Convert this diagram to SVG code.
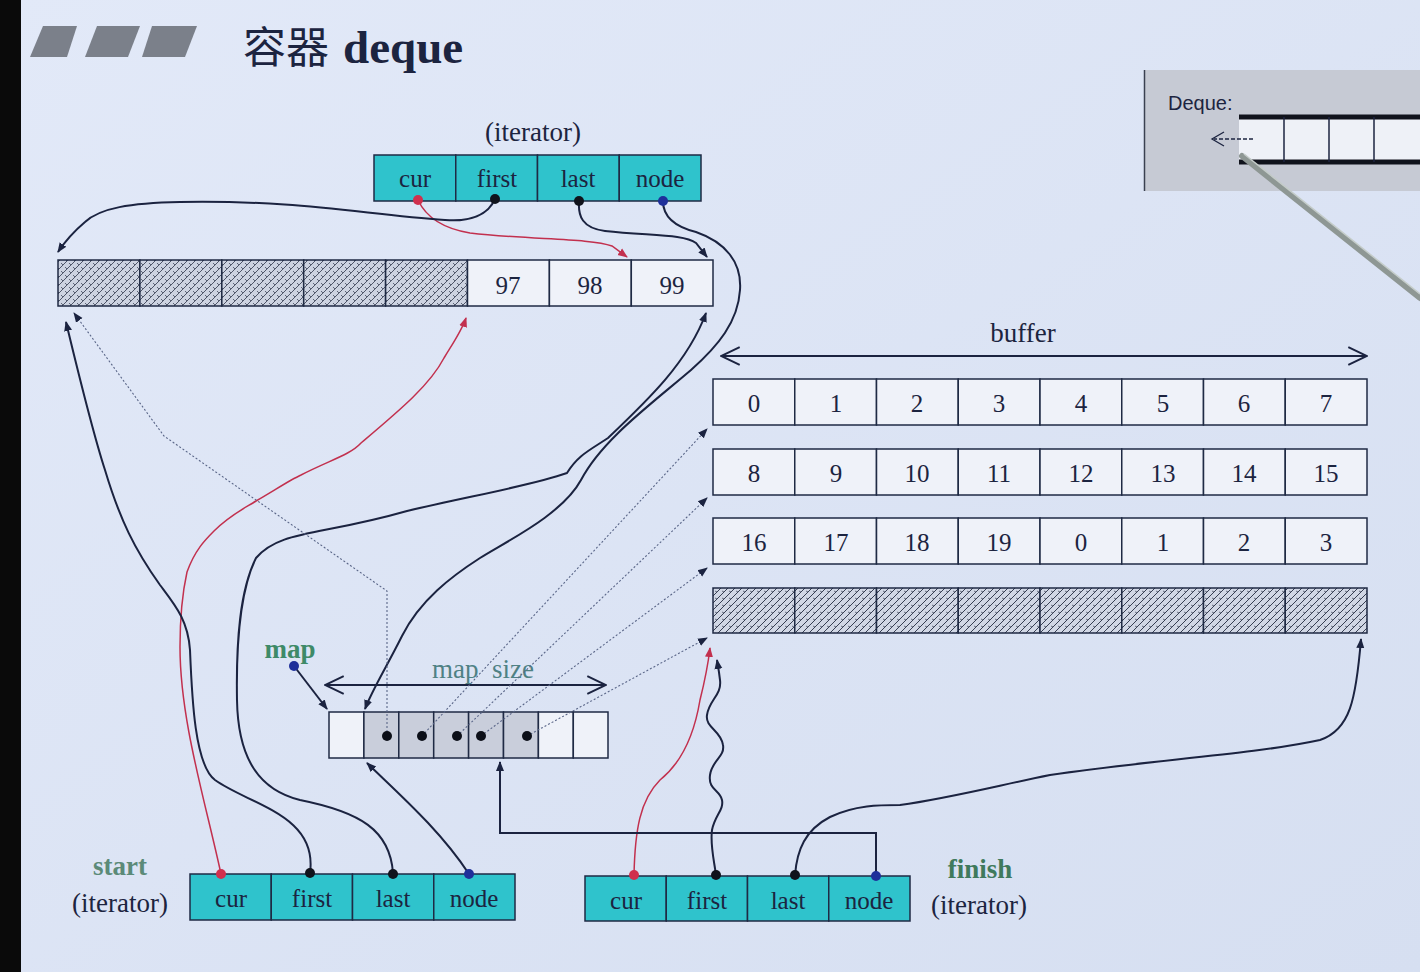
<svg xmlns="http://www.w3.org/2000/svg" width="1420" height="972" viewBox="0 0 1420 972">
  <defs>
    <linearGradient id="bg" x1="0" y1="0" x2="1" y2="1">
      <stop offset="0" stop-color="#e2e9f8"/>
      <stop offset="1" stop-color="#d6dff1"/>
    </linearGradient>
    <pattern id="hatch" width="8" height="8" patternUnits="userSpaceOnUse">
      <rect width="8" height="8" fill="#cdd3e1"/>
      <path d="M0,8 L8,0 M-2,2 L2,-2 M6,10 L10,6" stroke="#3f465a" stroke-width="0.9"/>
      <path d="M1,3 L3,5 M5,7 L7,9 M5,-1 L7,1" stroke="#3f465a" stroke-width="0.8"/>
    </pattern>
    <pattern id="hatch2" width="7" height="7" patternUnits="userSpaceOnUse">
      <rect width="7" height="7" fill="#d1d7e5"/>
      <path d="M0,7 L7,0 M-2,2 L2,-2 M5,9 L9,5" stroke="#363e52" stroke-width="1"/>
      <path d="M1,3 L3,4" stroke="#363e52" stroke-width="0.7"/>
    </pattern>
    <marker id="ah" viewBox="0 0 10 10" refX="9" refY="5" markerWidth="10" markerHeight="10" markerUnits="userSpaceOnUse" orient="auto">
      <path d="M0,1 L10,5 L0,9 z" fill="#1b2340"/>
    </marker>
    <marker id="ahr" viewBox="0 0 10 10" refX="9" refY="5" markerWidth="10" markerHeight="10" markerUnits="userSpaceOnUse" orient="auto">
      <path d="M0,1 L10,5 L0,9 z" fill="#c2304e"/>
    </marker>
    <marker id="open" viewBox="0 0 20 20" refX="19" refY="10" markerWidth="22" markerHeight="22" markerUnits="userSpaceOnUse" orient="auto-start-reverse">
      <path d="M2,2 L19,10 L2,18" fill="none" stroke="#1b2340" stroke-width="1.8"/>
    </marker>
    <style>
      .cell { fill: #eff2f9; stroke: #1f2a44; stroke-width: 1.5; }
      .it { fill: #2fc3cc; stroke: #1f2a44; stroke-width: 1.5; }
      .hat { fill: url(#hatch); stroke: #1f2a44; stroke-width: 1.5; }
      .hat2 { fill: url(#hatch2); stroke: #1f2a44; stroke-width: 1.5; }
      .mg { fill: #c9cedb; stroke: #1f2a44; stroke-width: 1.5; }
      .t { font-family: "Liberation Serif", "Times New Roman", serif; font-size: 25px; fill: #1c2440; text-anchor: middle; }
      .lab { font-family: "Liberation Serif", "Times New Roman", serif; font-size: 27px; fill: #1c2440; text-anchor: middle; }
      .grn { font-family: "Liberation Serif", "Times New Roman", serif; font-size: 27px; font-weight: bold; text-anchor: middle; }
      .ln { fill: none; stroke: #1b2340; stroke-width: 2; }
      .red { fill: none; stroke: #c2304e; stroke-width: 1.5; }
      .dot { fill: none; stroke: #5a6688; stroke-width: 1.1; stroke-dasharray: 2 2; }
    </style>
  </defs>

  <!-- backdrop -->
  <rect width="1420" height="972" fill="url(#bg)"/>
  <rect x="0" y="0" width="21" height="972" fill="#0a0a0a"/>

  <!-- title -->
  <g id="title">
    <polygon points="43,26 77,26 67,57 30,57" fill="#7b808a"/>
    <polygon points="97,26 140,26 128,57 85,57" fill="#7b808a"/>
    <polygon points="152,26 197,26 185,57 142,57" fill="#7b808a"/>
    <text x="243" y="63" font-family="Liberation Serif, Noto Sans CJK SC, serif" font-size="47" fill="#1c2440"><tspan font-family="Noto Sans CJK SC, sans-serif" font-size="43" font-weight="normal">容器</tspan><tspan dx="14" font-weight="bold">deque</tspan></text>
  </g>

  <!-- inset: deque sketch with pointer -->
  <g id="inset">
    <rect x="1144" y="70" width="280" height="121" fill="#c6cad4"/>
    <line x1="1144.5" y1="70" x2="1144.5" y2="191" stroke="#3a4050" stroke-width="1.5"/>
    <text x="1168" y="110" font-family="Liberation Sans, Arial, sans-serif" font-size="20" fill="#1c2440">Deque:</text>
    <rect x="1239" y="117" width="185" height="45" fill="#eef1f7"/>
    <line x1="1239" y1="117" x2="1420" y2="117" stroke="#10131c" stroke-width="5"/>
    <line x1="1239" y1="162" x2="1420" y2="162" stroke="#10131c" stroke-width="5"/>
    <line x1="1284" y1="117" x2="1284" y2="162" stroke="#1c2440" stroke-width="1.5"/>
    <line x1="1329" y1="117" x2="1329" y2="162" stroke="#1c2440" stroke-width="1.5"/>
    <line x1="1374" y1="117" x2="1374" y2="162" stroke="#1c2440" stroke-width="1.5"/>
    <line x1="1253" y1="139" x2="1214" y2="139" stroke="#1c2440" stroke-width="1.3" stroke-dasharray="4 2"/>
    <path d="M1224,132 L1212,139 L1224,146" fill="none" stroke="#1c2440" stroke-width="1.3"/>
    <line x1="1242" y1="156" x2="1420" y2="298" stroke="#8e9794" stroke-width="6" stroke-linecap="round"/>
    <line x1="1244" y1="154" x2="1420" y2="294" stroke="#c4ccc9" stroke-width="1.5"/>
  </g>

  <!-- top iterator -->
  <g id="iter-top">
    <text class="lab" x="533" y="141">(iterator)</text>
    <rect class="it" x="374" y="155" width="81.75" height="46"/>
    <rect class="it" x="455.75" y="155" width="81.75" height="46"/>
    <rect class="it" x="537.5" y="155" width="81.75" height="46"/>
    <rect class="it" x="619.25" y="155" width="81.75" height="46"/>
    <text class="t" x="415" y="187">cur</text>
    <text class="t" x="497" y="187">first</text>
    <text class="t" x="578" y="187">last</text>
    <text class="t" x="660" y="187">node</text>
  </g>

  <!-- first node buffer (97..99) -->
  <g id="buf-top">
    <rect class="hat" x="58" y="260" width="81.9" height="46"/>
    <rect class="hat" x="139.9" y="260" width="81.9" height="46"/>
    <rect class="hat" x="221.8" y="260" width="81.9" height="46"/>
    <rect class="hat" x="303.7" y="260" width="81.9" height="46"/>
    <rect class="hat" x="385.6" y="260" width="81.9" height="46"/>
    <rect class="cell" x="467.5" y="260" width="81.9" height="46"/>
    <rect class="cell" x="549.4" y="260" width="81.9" height="46"/>
    <rect class="cell" x="631.3" y="260" width="81.7" height="46"/>
    <text class="t" x="508" y="294">97</text>
    <text class="t" x="590" y="294">98</text>
    <text class="t" x="672" y="294">99</text>
  </g>

  <!-- buffer size arrow -->
  <g id="buffer-size">
    <text class="lab" x="1023" y="342">buffer</text>
    <line x1="721" y1="356" x2="1367" y2="356" stroke="#1b2340" stroke-width="1.8" marker-start="url(#open)" marker-end="url(#open)"/>
  </g>

  <!-- buffers 1..3 -->
  <g id="buf-1">
    <rect class="cell" x="713" y="379" width="81.75" height="46"/>
    <rect class="cell" x="794.75" y="379" width="81.75" height="46"/>
    <rect class="cell" x="876.5" y="379" width="81.75" height="46"/>
    <rect class="cell" x="958.25" y="379" width="81.75" height="46"/>
    <rect class="cell" x="1040" y="379" width="81.75" height="46"/>
    <rect class="cell" x="1121.75" y="379" width="81.75" height="46"/>
    <rect class="cell" x="1203.5" y="379" width="81.75" height="46"/>
    <rect class="cell" x="1285.25" y="379" width="81.75" height="46"/>
    <text class="t" x="754" y="412">0</text>
    <text class="t" x="836" y="412">1</text>
    <text class="t" x="917" y="412">2</text>
    <text class="t" x="999" y="412">3</text>
    <text class="t" x="1081" y="412">4</text>
    <text class="t" x="1163" y="412">5</text>
    <text class="t" x="1244" y="412">6</text>
    <text class="t" x="1326" y="412">7</text>
  </g>
  <g id="buf-2">
    <rect class="cell" x="713" y="449" width="81.75" height="46"/>
    <rect class="cell" x="794.75" y="449" width="81.75" height="46"/>
    <rect class="cell" x="876.5" y="449" width="81.75" height="46"/>
    <rect class="cell" x="958.25" y="449" width="81.75" height="46"/>
    <rect class="cell" x="1040" y="449" width="81.75" height="46"/>
    <rect class="cell" x="1121.75" y="449" width="81.75" height="46"/>
    <rect class="cell" x="1203.5" y="449" width="81.75" height="46"/>
    <rect class="cell" x="1285.25" y="449" width="81.75" height="46"/>
    <text class="t" x="754" y="482">8</text>
    <text class="t" x="836" y="482">9</text>
    <text class="t" x="917" y="482">10</text>
    <text class="t" x="999" y="482">11</text>
    <text class="t" x="1081" y="482">12</text>
    <text class="t" x="1163" y="482">13</text>
    <text class="t" x="1244" y="482">14</text>
    <text class="t" x="1326" y="482">15</text>
  </g>
  <g id="buf-3">
    <rect class="cell" x="713" y="518" width="81.75" height="46"/>
    <rect class="cell" x="794.75" y="518" width="81.75" height="46"/>
    <rect class="cell" x="876.5" y="518" width="81.75" height="46"/>
    <rect class="cell" x="958.25" y="518" width="81.75" height="46"/>
    <rect class="cell" x="1040" y="518" width="81.75" height="46"/>
    <rect class="cell" x="1121.75" y="518" width="81.75" height="46"/>
    <rect class="cell" x="1203.5" y="518" width="81.75" height="46"/>
    <rect class="cell" x="1285.25" y="518" width="81.75" height="46"/>
    <text class="t" x="754" y="551">16</text>
    <text class="t" x="836" y="551">17</text>
    <text class="t" x="917" y="551">18</text>
    <text class="t" x="999" y="551">19</text>
    <text class="t" x="1081" y="551">0</text>
    <text class="t" x="1163" y="551">1</text>
    <text class="t" x="1244" y="551">2</text>
    <text class="t" x="1326" y="551">3</text>
  </g>
  <!-- last, unused buffer -->
  <g id="buf-4">
    <rect class="hat2" x="713" y="588" width="81.75" height="45"/>
    <rect class="hat2" x="794.75" y="588" width="81.75" height="45"/>
    <rect class="hat2" x="876.5" y="588" width="81.75" height="45"/>
    <rect class="hat2" x="958.25" y="588" width="81.75" height="45"/>
    <rect class="hat2" x="1040" y="588" width="81.75" height="45"/>
    <rect class="hat2" x="1121.75" y="588" width="81.75" height="45"/>
    <rect class="hat2" x="1203.5" y="588" width="81.75" height="45"/>
    <rect class="hat2" x="1285.25" y="588" width="81.75" height="45"/>
  </g>

  <!-- map (node array) -->
  <g id="map">
    <text class="grn" x="290" y="658" fill="#3e8a68" font-size="25">map</text>
    <text x="483" y="678" font-family="Liberation Serif, serif" font-size="27" fill="#4f8184" text-anchor="middle" xml:space="preserve">map  size</text>
    <line x1="325" y1="685" x2="606" y2="685" stroke="#1b2340" stroke-width="1.8" marker-start="url(#open)" marker-end="url(#open)"/>
    <rect class="cell" x="329" y="712" width="34.9" height="46"/>
    <rect class="mg" x="363.9" y="712" width="34.9" height="46"/>
    <rect class="mg" x="398.8" y="712" width="34.9" height="46"/>
    <rect class="mg" x="433.7" y="712" width="34.9" height="46"/>
    <rect class="mg" x="468.6" y="712" width="34.9" height="46"/>
    <rect class="mg" x="503.5" y="712" width="34.9" height="46"/>
    <rect class="cell" x="538.4" y="712" width="34.9" height="46"/>
    <rect class="cell" x="573.3" y="712" width="34.7" height="46"/>
  </g>

  <!-- start iterator -->
  <g id="iter-start">
    <text class="grn" x="120" y="875" fill="#5b8a78">start</text>
    <text class="lab" x="120" y="912">(iterator)</text>
    <rect class="it" x="190" y="874" width="81.25" height="46"/>
    <rect class="it" x="271.25" y="874" width="81.25" height="46"/>
    <rect class="it" x="352.5" y="874" width="81.25" height="46"/>
    <rect class="it" x="433.75" y="874" width="81.25" height="46"/>
    <text class="t" x="231" y="907">cur</text>
    <text class="t" x="312" y="907">first</text>
    <text class="t" x="393" y="907">last</text>
    <text class="t" x="474" y="907">node</text>
  </g>

  <!-- finish iterator -->
  <g id="iter-finish">
    <text class="grn" x="980" y="878" fill="#3f7a5c">finish</text>
    <text class="lab" x="979" y="914">(iterator)</text>
    <rect class="it" x="585" y="876" width="81.25" height="45"/>
    <rect class="it" x="666.25" y="876" width="81.25" height="45"/>
    <rect class="it" x="747.5" y="876" width="81.25" height="45"/>
    <rect class="it" x="828.75" y="876" width="81.25" height="45"/>
    <text class="t" x="626" y="909">cur</text>
    <text class="t" x="707" y="909">first</text>
    <text class="t" x="788" y="909">last</text>
    <text class="t" x="869" y="909">node</text>
  </g>

  <!-- pointers -->
  <g id="connectors">
    <!-- top iterator -->
    <path class="red" d="M418,200 C425,215 440,228 470,233 C530,240 590,238 612,246 L627,257" marker-end="url(#ahr)"/>
    <path class="ln" d="M495,199 C488,215 470,222 445,220 C360,214 300,200 180,202 C130,203 100,208 85,222 C72,233 64,243 58,252" marker-end="url(#ah)"/>
    <path class="ln" d="M579,201 C578,216 582,228 605,231 C650,236 684,234 696,243 L707,257" marker-end="url(#ah)"/>
    <path class="ln" d="M663,201 C663,215 672,226 696,232 C725,242 742,262 740,290 C738,322 718,346 691,370 C650,405 602,440 581,480 C562,515 505,542 480,558 C452,576 420,600 402,636 C386,668 372,690 365,709" marker-end="url(#ah)"/>

    <!-- start iterator -->
    <path class="red" d="M221,874 C205,800 180,720 180,647 C180,610 183,590 187,572 C195,550 205,540 214,531 C230,515 245,508 256,501 C275,490 290,480 301,475 C330,460 350,455 361,443 C400,410 430,385 444,358 C455,340 462,330 466,318" marker-end="url(#ahr)"/>
    <path class="ln" d="M310,873 C318,815 250,805 215,780 C195,765 192,700 190,650 C188,620 175,605 160,585 C135,550 120,520 105,470 C92,430 80,380 66,322" marker-end="url(#ah)"/>
    <path class="ln" d="M393,873 C390,830 360,812 300,800 C260,790 238,760 237,700 C236,640 240,590 256,558 C280,530 320,536 407,511 C470,496 530,486 567,473 C578,455 590,450 608,438 C648,400 688,362 706,313" marker-end="url(#ah)"/>
    <path class="ln" d="M469,874 C440,830 400,795 367,763" marker-end="url(#ah)"/>

    <!-- map pointer -->
    <path class="ln" d="M294,666 L327,709" marker-end="url(#ah)"/>

    <!-- map entries to buffers -->
    <path class="dot" d="M387,736 L387,591 L164,436 L74,313" marker-end="url(#ah)"/>
    <path class="dot" d="M422,736 L707,429" marker-end="url(#ah)"/>
    <path class="dot" d="M457,736 L707,498" marker-end="url(#ah)"/>
    <path class="dot" d="M481,736 L707,568" marker-end="url(#ah)"/>
    <path class="dot" d="M527,736 L707,638" marker-end="url(#ah)"/>

    <!-- finish iterator -->
    <path class="red" d="M634,875 C635,830 640,800 660,780 C685,760 695,730 700,700 C705,680 708,665 710,648" marker-end="url(#ahr)"/>
    <path class="ln" d="M716,875 C714,860 710,845 712,830 C715,815 724,810 722,800 C720,790 708,790 710,775 C712,760 725,757 723,745 C721,730 705,728 707,715 C709,700 722,695 720,680 C719,671 718,666 717,660" marker-end="url(#ah)"/>
    <path class="ln" d="M795,875 C797,850 805,830 830,817 C855,805 880,805 900,805 C950,798 1000,785 1050,775 C1150,760 1250,755 1320,740 C1350,730 1356,700 1361,639" marker-end="url(#ah)"/>
    <path class="ln" d="M876,876 L876,833 L500,833 L500,762" marker-end="url(#ah)"/>

    <!-- pointer dots -->
    <circle cx="418" cy="200" r="5" fill="#d0304e"/>
    <circle cx="495" cy="199" r="5" fill="#10131c"/>
    <circle cx="579" cy="201" r="5" fill="#10131c"/>
    <circle cx="663" cy="201" r="5" fill="#1e2f9a"/>
    <circle cx="221" cy="874" r="5" fill="#d0304e"/>
    <circle cx="310" cy="873" r="5" fill="#10131c"/>
    <circle cx="393" cy="874" r="5" fill="#10131c"/>
    <circle cx="469" cy="874" r="5" fill="#1e2f9a"/>
    <circle cx="634" cy="875" r="5" fill="#d0304e"/>
    <circle cx="716" cy="875" r="5" fill="#10131c"/>
    <circle cx="795" cy="875" r="5" fill="#10131c"/>
    <circle cx="876" cy="876" r="5" fill="#1e2f9a"/>
    <circle cx="294" cy="666" r="5" fill="#1e2f9a"/>
    <circle cx="387" cy="736" r="5" fill="#0c0f18"/>
    <circle cx="422" cy="736" r="5" fill="#0c0f18"/>
    <circle cx="457" cy="736" r="5" fill="#0c0f18"/>
    <circle cx="481" cy="736" r="5" fill="#0c0f18"/>
    <circle cx="527" cy="736" r="5" fill="#0c0f18"/>
  </g>
</svg>
